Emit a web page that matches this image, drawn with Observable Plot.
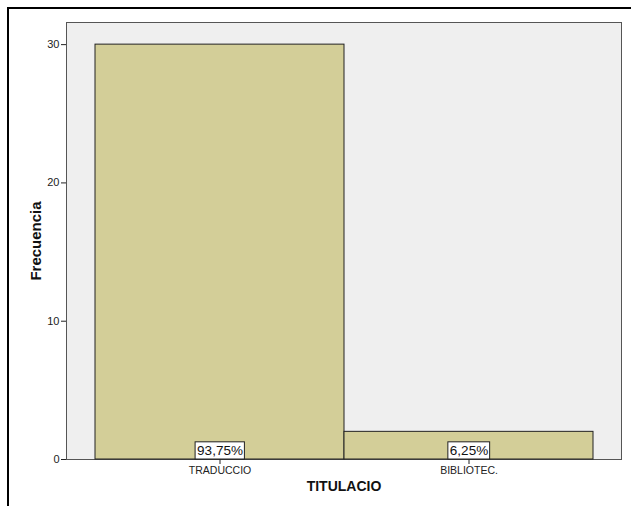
<!DOCTYPE html>
<html>
<head>
<meta charset="utf-8">
<script src="https://cdn.jsdelivr.net/npm/d3@7"></script>
<script src="https://cdn.jsdelivr.net/npm/@observablehq/plot@0.6"></script>
<style>
  html, body { margin: 0; padding: 0; background: #fff; overflow: hidden; }
  #wrap { position: relative; width: 631px; height: 506px; overflow: hidden; }
  #border { position: absolute; left: 7px; top: 7px; width: 700px; height: 600px;
            border-left: 2px solid #000; border-top: 2px solid #000; }
  #chart { position: absolute; left: 0; top: 0; }
</style>
</head>
<body>
<div id="wrap"><div id="border"></div><div id="chart"></div></div>
<script>
const categories = ["TRADUCCIO", "BIBLIOTEC."];
const frequencies = [30, 2];
const percentLabels = ["93,75%", "6,25%"];
const yTicks = [0, 10, 20, 30];
const yLabel = "Frecuencia";
const xLabel = "TITULACIO";

const data = categories.map((c, i) => ({cat: c, freq: frequencies[i], pct: percentLabels[i]}));

const chart = Plot.plot({
  width: 631,
  height: 506,
  marginLeft: 66,
  marginRight: 10,
  marginTop: 22,
  marginBottom: 47,
  style: {fontFamily: "'Liberation Sans', Arial, sans-serif", background: "transparent", color: "#222"},
  x: {domain: categories, paddingInner: 0, paddingOuter: 0.112, axis: null},
  y: {domain: [0, 31.6], axis: null},
  marks: [
    Plot.frame({fill: "#efefef", stroke: "#555"}),
    Plot.barY(data, {x: "cat", y: "freq", fill: "#d3ce98", stroke: "#222", strokeWidth: 1}),
    Plot.axisY(yTicks, {tickSize: 5, tickPadding: 2, fontSize: 11, label: null, stroke: "#222"}),
    Plot.axisX({tickSize: 5, tickPadding: 2, fontSize: 10.5, label: null, stroke: "#222"}),
    Plot.text([yLabel], {frameAnchor: "left", dx: -30, rotate: -90, textAnchor: "middle", fontWeight: "bold", fontSize: 15, fill: "#111"}),
    Plot.text([xLabel], {frameAnchor: "bottom", dy: 31, textAnchor: "middle", fontWeight: "bold", fontSize: 14, fill: "#111"}),
    Plot.text(data, {x: "cat", y: 0, text: "pct", dy: -9, fontSize: 13.5, fill: "#111"})
  ]
});
document.getElementById("chart").appendChild(chart);

// white boxes behind percentage labels, reaching down to the bar base
const plotBottom = 506 - 47;
const svgBox = chart.getBoundingClientRect();
d3.select(chart).selectAll('g[aria-label="text"]').each(function() {
  const texts = d3.select(this).selectAll("text").nodes();
  if (!texts.length || !texts[0].textContent.includes("%")) return;
  const boxes = document.createElementNS("http://www.w3.org/2000/svg", "g");
  texts.forEach(t => {
    const b = t.getBoundingClientRect();
    const x0 = b.left - svgBox.left - 2;
    const y0 = b.top - svgBox.top - 1;
    const r = document.createElementNS("http://www.w3.org/2000/svg", "rect");
    r.setAttribute("x", x0);
    r.setAttribute("y", y0);
    r.setAttribute("width", b.width + 3.5);
    r.setAttribute("height", plotBottom - y0);
    r.setAttribute("fill", "#fff");
    r.setAttribute("stroke", "#222");
    boxes.appendChild(r);
  });
  this.parentNode.insertBefore(boxes, this);
});
</script>
</body>
</html>
